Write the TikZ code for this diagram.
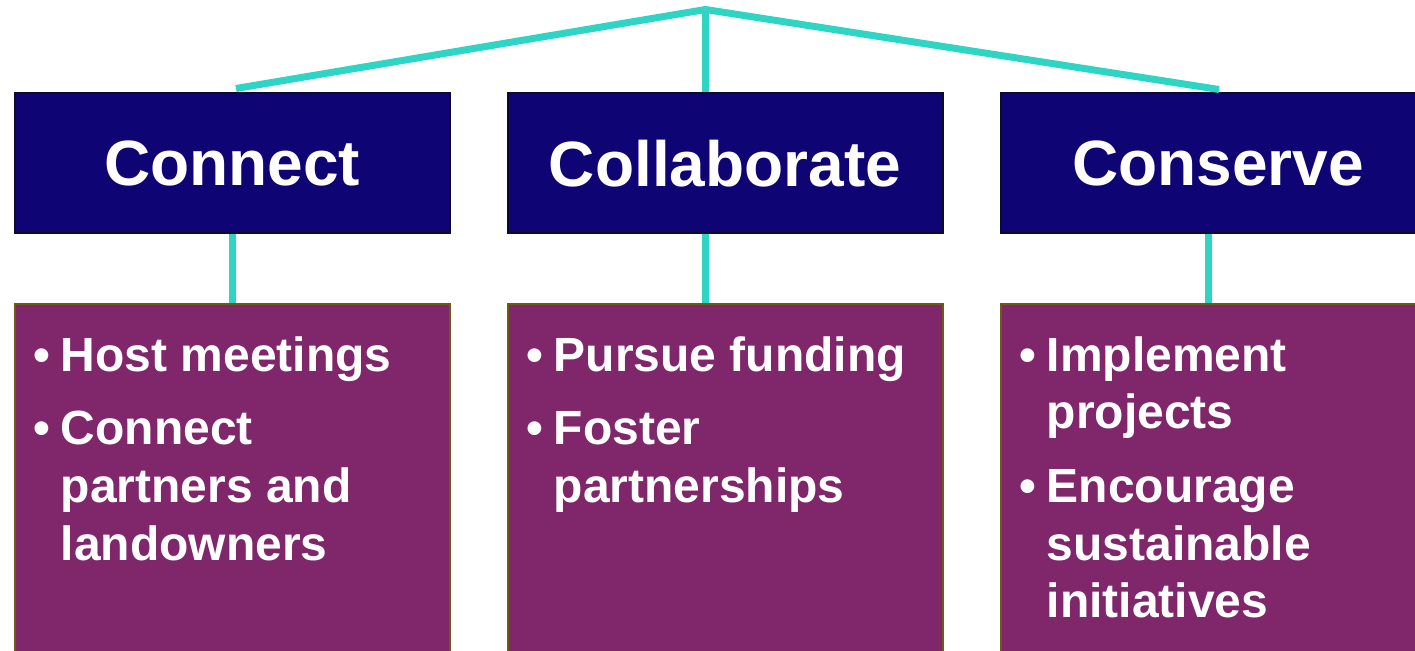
\documentclass[tikz,border=0pt]{standalone}
\usepackage{fontspec}
\setmainfont{Liberation Sans}
\usepackage{xcolor}
\usepackage{tikz}
\usetikzlibrary{positioning}

\definecolor{headblue}{RGB}{15,4,116}
\definecolor{headedge}{RGB}{12,10,45}
\definecolor{itempurple}{RGB}{128,38,106}
\definecolor{itemedge}{RGB}{110,90,20}
\definecolor{linkteal}{RGB}{46,213,197}

\newcommand{\bul}{\makebox[13.5pt][l]{•}}
\newcommand{\ind}{\hspace*{13.5pt}}

\begin{document}
\begin{tikzpicture}[x=0.5pt, y=-0.5pt, node distance=28pt,
    head/.style={draw=headedge, line width=1pt, fill=headblue, text=white,
        minimum width=217.5pt, minimum height=70pt,
        font=\fontsize{32}{38}\selectfont\bfseries},
    itembox/.style={draw=itemedge, line width=1pt, fill=itempurple,
        minimum width=217.5pt, minimum height=210pt},
    itemtext/.style={text=white, align=left, inner sep=0pt, anchor=north west,
        font=\fontsize{24}{28.8}\selectfont\bfseries},
    link/.style={draw=linkteal, line width=3.5pt}]
    \useasboundingbox (0,0) rectangle (1415,651);
    % Heading boxes
    \node[head] (conn) at (232,163.5) {Connect};
    \node[head, right=of conn] (collab) {Collaborate};
    \node[head, right=of collab] (conserve) {Conserve};
    % Item boxes below the headings
    \node[itembox, below=34.5pt of conn, anchor=north] (connitems) {};
    \node[itembox, below=34.5pt of collab, anchor=north] (collabitems) {};
    \node[itembox, below=34.5pt of conserve, anchor=north] (conserveitems) {};
    % Item texts
    \node[itemtext] (connlist) at ([xshift=10pt, yshift=-16.3pt]connitems.north west)
        {\bul Host meetings\\[8pt] \bul Connect\\ \ind partners and\\ \ind landowners};
    \node[itemtext] (collablist) at ([xshift=10pt, yshift=-16.3pt]collabitems.north west)
        {\bul Pursue funding\\[8pt] \bul Foster\\ \ind partnerships};
    \node[itemtext] (conservelist) at ([xshift=10pt, yshift=-16.3pt]conserveitems.north west)
        {\bul Implement\\ \ind projects\\[8pt] \bul Encourage\\ \ind sustainable\\ \ind initiatives};
    % Connections: top of the tree
    \coordinate (apex) at ([xshift=-9.75pt, yshift=41.5pt]collab.north);
    \draw[link] ([xshift=2pt, yshift=2pt]conn.north) -- (apex) -- ([xshift=0.5pt, yshift=1.5pt]conserve.north);
    \draw[link] (apex) -- ([xshift=-9.75pt]collab.north);
    % Connections: headings to items
    \draw[link] (conn.south) -- (connitems.north);
    \draw[link] ([xshift=-9.75pt]collab.south) -- ([xshift=-9.75pt]collabitems.north);
    \draw[link] ([xshift=-4.75pt]conserve.south) -- ([xshift=-4.75pt]conserveitems.north);
\end{tikzpicture}
\end{document}
